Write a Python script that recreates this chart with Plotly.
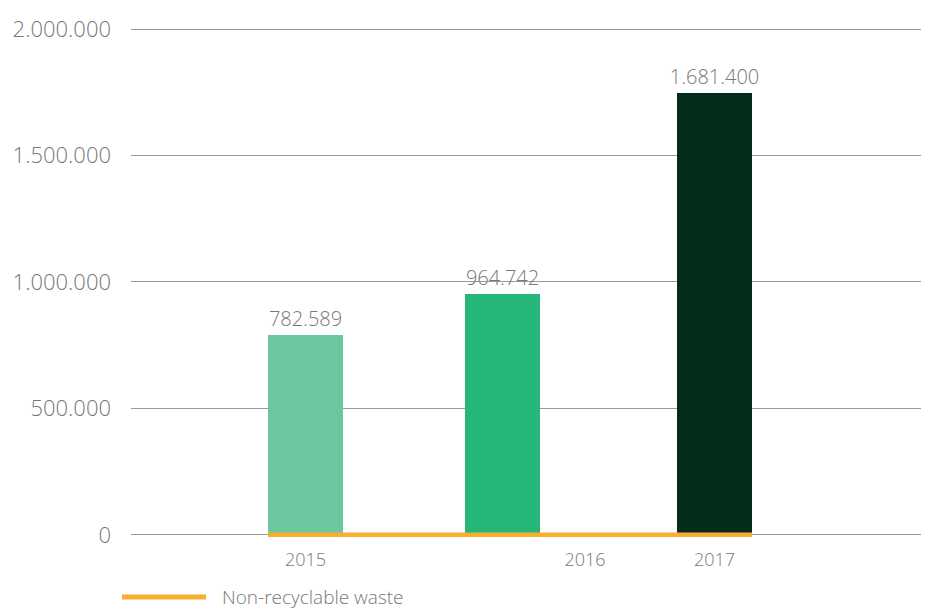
import plotly.graph_objects as go

# ---- data ----
years = ["2015", "2016", "2017"]
bar_heights = [790500, 952500, 1747000]          # drawn bar heights
value_labels = ["782.589", "964.742", "1.681.400"]  # printed labels
non_recyclable = [0, 0, 0]
bar_colors = ["#6CC7A0", "#26B679", "#032D1B"]
y_ticks = [0, 500000, 1000000, 1500000, 2000000]

# ---- layout positions (axis units == pixels of plot area) ----
bar_pos = [174.5, 371, 583.5]
tick_pos = [174.5, 454, 583.5]
bar_width = 75
FONT = "Open Sans"
GREY = "#787878"
PH = 509  # plot height px
ZERO_PAPER = 8000 / 2012000  # paper fraction of y=0

fig = go.Figure()
fig.add_trace(go.Bar(
    x=bar_pos, y=bar_heights, width=bar_width,
    marker=dict(color=bar_colors, line=dict(width=0)),
    text=value_labels, textposition="outside", cliponaxis=False,
    constraintext="none",
    textfont=dict(family=FONT, size=20, color=GREY, weight=300),
    showlegend=False, hoverinfo="skip",
))
line_x = [bar_pos[0] - bar_width / 2, bar_pos[1], bar_pos[2] + bar_width / 2]
fig.add_trace(go.Scatter(
    x=line_x, y=non_recyclable, mode="lines",
    line=dict(color="#F9AE2F", width=5),
    name="Non-recyclable waste", showlegend=False,
))

fig.update_layout(
    width=921, height=602,
    margin=dict(l=123, r=0, t=20, b=73),
    paper_bgcolor="white", plot_bgcolor="white",
    separators=",.",
    font=dict(family=FONT, color=GREY, weight=300),
    xaxis=dict(range=[0, 798], tickvals=tick_pos, ticktext=years,
               showgrid=False, zeroline=False, showline=False,
               tickfont=dict(size=18, color=GREY, weight=300), ticks="",
               ticklabelstandoff=10, fixedrange=True),
    yaxis=dict(range=[-8000, 2004000], tickvals=y_ticks, tickformat=",d",
               showgrid=True, gridcolor="#9a9a9a", gridwidth=1,
               zeroline=True, zerolinecolor="#9a9a9a", zerolinewidth=1,
               showline=False, ticks="",
               tickfont=dict(size=22, color=GREY, weight=300),
               ticklabelstandoff=19, fixedrange=True),
    bargap=0,
    shapes=[dict(type="line", xref="paper", yref="paper",
                 x0=(122 - 131) / 798, x1=(206 - 131) / 798,
                 y0=ZERO_PAPER - (597 - 535) / PH, y1=ZERO_PAPER - (597 - 535) / PH,
                 line=dict(color="#F9AE2F", width=5))],
    annotations=[dict(text="Non-recyclable waste", xref="paper", yref="paper",
                      x=(220 - 131) / 798, y=ZERO_PAPER - (597 - 535) / PH,
                      xanchor="left", yanchor="middle", showarrow=False,
                      font=dict(family=FONT, size=19, color=GREY, weight=300))],
)

fig.write_html("out.html")
